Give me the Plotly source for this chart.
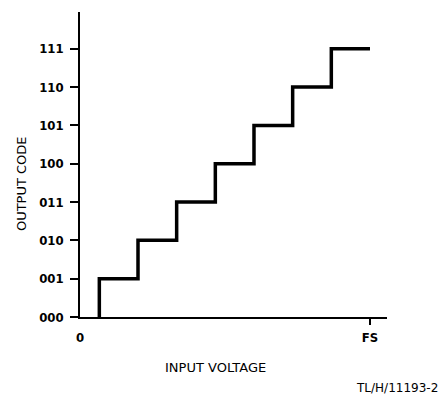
import plotly.graph_objs as go

# output codes of the 3-bit converter, from 000 up to 111
codes = ["000", "001", "010", "011", "100", "101", "110", "111"]
# input voltage (in LSB) where each code step happens, last point is full scale
step_x = [0.5, 1.5, 2.5, 3.5, 4.5, 5.5, 6.5, 7.5]
step_code = [0, 1, 2, 3, 4, 5, 6, 7]
x_tick_vals = [0, 7.5]
x_tick_text = ["0", "FS"]

tick_font = dict(family="Liberation Sans Narrow, DejaVu Sans Condensed, DejaVu Sans",
                 size=13, color="black", weight="bold")
title_font = dict(family="DejaVu Sans, Liberation Sans", size=13, color="black")

trace_1 = go.Scatter(
    x=step_x,
    y=step_code,
    mode="lines",
    line=dict(color="black", width=3.5, shape="vh"),
    showlegend=False,
    hoverinfo="skip"
)

# page body has an 8px margin, so the figure is a little smaller than the window
layout = go.Layout(
    width=439,
    height=386,
    margin=dict(l=72, r=60, t=4, b=77),
    paper_bgcolor="white",
    plot_bgcolor="white",
    showlegend=False,
    xaxis=dict(
        range=[0, 7.94],
        showgrid=False,
        zeroline=False,
        showline=True,
        linecolor="black",
        linewidth=1.5,
        tickvals=x_tick_vals,
        ticktext=x_tick_text,
        ticks="",
        ticklabelstandoff=8,
        tickfont=tick_font,
        minor=dict(tickvals=[7.5], ticks="outside", ticklen=6, tickwidth=1.5, tickcolor="black",
                   showgrid=False),
        fixedrange=True
    ),
    yaxis=dict(
        range=[0, 7.96],
        showgrid=False,
        zeroline=False,
        showline=True,
        linecolor="black",
        linewidth=1.5,
        tickvals=step_code,
        ticktext=codes,
        ticks="outside",
        ticklen=8,
        tickwidth=1.5,
        tickcolor="black",
        ticklabelstandoff=4,
        tickfont=tick_font,
        fixedrange=True
    ),
    annotations=[
        dict(text="OUTPUT CODE", xref="paper", yref="paper", x=-0.192, y=0.436,
             textangle=-90, showarrow=False, font=title_font, xanchor="center", yanchor="middle"),
        dict(text="INPUT VOLTAGE", xref="paper", yref="paper", x=0.44, y=-0.164,
             showarrow=False, font=title_font, xanchor="center", yanchor="middle"),
        dict(text="TL/H/11193-2", xref="paper", yref="paper", x=1.173, y=-0.233,
             showarrow=False, font=dict(family="DejaVu Sans, Liberation Sans", size=12, color="black"),
             xanchor="right", yanchor="middle"),
    ]
)

fig = go.Figure(data=[trace_1], layout=layout)
fig.write_html("out.html")
